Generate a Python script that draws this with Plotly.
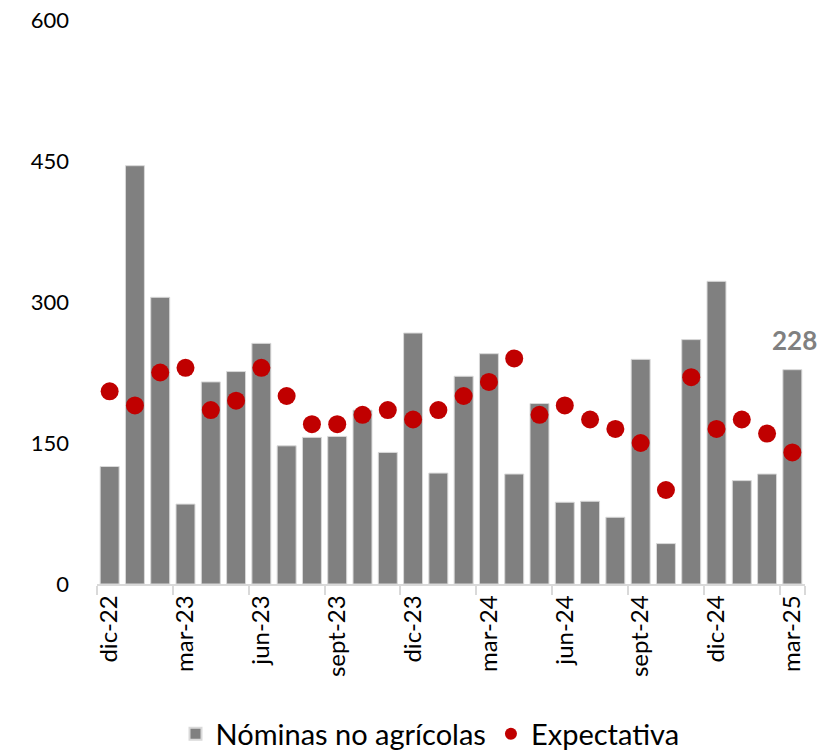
import plotly.graph_objects as go

categories = ["dic-22","ene-23","feb-23","mar-23","abr-23","may-23","jun-23","jul-23","ago-23","sept-23",
              "oct-23","nov-23","dic-23","ene-24","feb-24","mar-24","abr-24","may-24","jun-24","jul-24",
              "ago-24","sept-24","oct-24","nov-24","dic-24","ene-25","feb-25","mar-25"]
nominas = [125, 445, 305, 85, 215, 226, 256, 147, 156, 157, 185, 140, 267, 118,
           221, 245, 117, 192, 87, 88, 71, 239, 43, 260, 322, 110, 117, 228]
expectativa = [205, 190, 225, 230, 185, 195, 230, 200, 170, 170, 180, 185, 175, 185,
               200, 215, 240, 180, 190, 175, 165, 150, 100, 220, 165, 175, 160, 140]
tick_labels = ["dic-22","mar-23","jun-23","sept-23","dic-23","mar-24","jun-24","sept-24","dic-24","mar-25"]
y_ticks = [0, 150, 300, 450, 600]

FONT = "Lato, 'Open Sans', sans-serif"
W, H = 838, 754

fig = go.Figure()
fig.add_trace(go.Bar(x=categories, y=nominas, name="Nóminas no agrícolas",
                     marker=dict(color="#808080", line=dict(color="#d9d9d9", width=1))))
fig.add_trace(go.Scatter(x=categories, y=expectativa, name="Expectativa", mode="markers",
                         marker=dict(color="#C00000", size=18)))

fig.add_annotation(x=categories[-1], y=nominas[-1], text="<b>%d</b>" % nominas[-1],
                   showarrow=False, yanchor="bottom", yshift=12, xshift=2,
                   font=dict(size=26, color="#808080", family=FONT))

fig.update_layout(
    width=W, height=H,
    margin=dict(l=97, r=33, t=20, b=170),
    plot_bgcolor="white", paper_bgcolor="white",
    bargap=0.25,
    font=dict(family=FONT, size=20, color="black"),
    showlegend=True,
    legend=dict(orientation="h", x=430 / W, xref="container", xanchor="center",
                y=1 - 734 / H, yref="container", yanchor="middle",
                font=dict(size=29, color="black"), itemsizing="constant",
                tracegroupgap=0, itemwidth=30),
    xaxis=dict(type="category", tickmode="array", tickvals=tick_labels, ticktext=tick_labels,
               tickangle=-90, tickson="boundaries", ticks="outside", ticklen=9,
               tickcolor="#d9d9d9", tickwidth=1.5, showline=True, linecolor="#d9d9d9", linewidth=1.5,
               showgrid=False, tickfont=dict(size=24), automargin=False, range=[-0.5, 27.5],
               ticklabeloverflow="allow"),
    yaxis=dict(range=[0, 600], tickvals=y_ticks, showgrid=False, zeroline=False,
               showline=False, ticks="", ticklabelstandoff=27, tickfont=dict(size=22),
               automargin=False, ticklabeloverflow="allow"),
)

fig.write_html("out.html", config={"displayModeBar": False},
               post_script="document.body.style.margin='0';")
